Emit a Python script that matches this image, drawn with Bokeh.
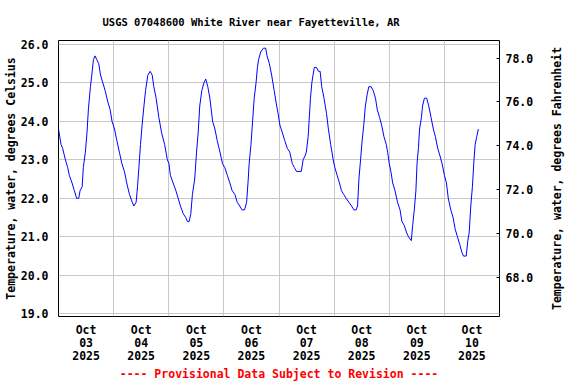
from bokeh.plotting import figure
from bokeh.layouts import row
from bokeh.models import Range1d, LinearAxis, FixedTicker, PrintfTickFormatter
from bokeh.embed import file_html
from bokeh.resources import INLINE

# hours since 2025-10-03 00:00
hours = [0, 1.1, 1.8, 3, 4, 4.7, 5.9, 6.9, 7.9, 8.8, 9.4, 10.3, 10.8, 11.7, 12.4, 13, 13.9, 14.5, 15.2,
         15.9, 16.7, 17.5, 18.3, 19.3, 20.3, 21.5, 22.5, 23.3,
         24.4, 25.4, 26.5, 27.6, 28.7, 29.7, 30.9, 32.1, 32.8, 33.8, 34.4, 35, 35.7, 36.4, 37.2, 37.9,
         38.9, 39.9, 40.8, 41.5, 42.5, 43.7, 44.9, 46.2, 47.4,
         48.1, 48.7, 49.9, 51.1, 52.1, 53.1, 54.3, 55.4, 56.1, 56.9, 57.6, 58.3, 59.3, 60.1, 60.8, 61.5,
         62.4, 63.3, 64.1, 65, 65.9, 67.1, 68.1, 69.1, 70.3, 71.4,
         72.4, 73.5, 74.6, 75.6, 76.8, 77.8, 78.9, 79.9, 81, 81.9, 82.5, 83, 83.8, 84.5, 85.2, 86, 86.6,
         87.1, 88, 89.2, 90.2, 90.8, 91.8, 92.8, 93.9, 94.7, 95.6,
         96.4, 97.5, 98.5, 99.6, 100.7, 101.8, 102.7, 103.6, 105.7, 106.5, 107.3, 107.9, 108.7, 109.1,
         109.7, 110.3, 110.8, 111.4, 112.3, 113.2, 113.9, 114.6, 115.6, 116.7, 117.5, 118.5, 119.6,
         120.3, 121.3, 122.3, 123.2, 124.2, 125.2, 126.4, 127.6, 128.6, 129.6, 130.2, 130.8, 131.5,
         132.2, 132.9, 133.6, 134.4, 135.1, 136.1, 137, 138, 138.8, 139.8, 140.7, 141.7, 142.7,
         143.3, 144, 144.7, 145.5, 146.5, 147.6, 148.7, 149.5, 150.5, 151.6, 152.4, 153.6, 154.2,
         154.9, 155.6, 156.1, 156.7, 157.2, 158, 158.5, 159.3, 160.3, 161.2, 162.2, 163.2, 164.1,
         165.1, 166.1, 167, 168,
         168.9, 169.7, 170.8, 171.8, 172.7, 173.7, 174.7, 175.6, 176.3, 177.5, 178.2, 178.8, 179.5,
         180.2, 180.9, 181.4, 182.1, 182.8]
temp_c = [23.8, 23.4, 23.3, 23.0, 22.8, 22.6, 22.4, 22.2, 22.0, 22.0, 22.2, 22.3, 22.8, 23.2, 23.7, 24.3,
          24.9, 25.2, 25.6, 25.7, 25.6, 25.5, 25.2, 25.0, 24.8, 24.5, 24.3, 24.0,
          23.8, 23.5, 23.2, 22.9, 22.7, 22.4, 22.1, 21.9, 21.8, 21.9, 22.3, 22.8, 23.4, 23.9, 24.4, 24.8,
          25.2, 25.3, 25.2, 24.9, 24.6, 24.1, 23.7, 23.4, 23.0,
          22.9, 22.6, 22.4, 22.2, 22.0, 21.8, 21.6, 21.5, 21.4, 21.4, 21.6, 22.1, 22.5, 23.2, 23.7, 24.4,
          24.8, 25.0, 25.1, 24.9, 24.6, 24.0, 23.8, 23.5, 23.2, 22.9,
          22.8, 22.6, 22.4, 22.2, 22.1, 21.9, 21.8, 21.7, 21.7, 21.9, 22.4, 22.9, 23.4, 24.0, 24.6, 25.0,
          25.4, 25.6, 25.8, 25.9, 25.9, 25.7, 25.5, 25.2, 24.8, 24.5, 24.2,
          23.9, 23.7, 23.5, 23.3, 23.2, 22.9, 22.8, 22.7, 22.7, 23.0, 23.1, 23.2, 23.6, 24.0,
          24.6, 25.0, 25.2, 25.4, 25.4, 25.3, 25.3, 24.9, 24.6, 24.2, 23.8, 23.4, 23.0,
          22.8, 22.6, 22.4, 22.2, 22.1, 22.0, 21.9, 21.8, 21.7, 21.7, 21.8, 22.5, 23.0,
          23.5, 23.9, 24.4, 24.7, 24.9, 24.9, 24.8, 24.6, 24.3, 24.1, 23.9, 23.6, 23.4,
          23.2, 22.9, 22.7, 22.4, 22.2, 21.9, 21.7, 21.4, 21.3, 21.1, 21.0, 20.9, 21.3,
          21.7, 22.2, 22.9, 23.3, 23.8, 24.1, 24.4, 24.6, 24.6, 24.4, 24.1, 23.8, 23.6,
          23.3, 23.1, 22.9, 22.6,
          22.4, 22.0, 21.7, 21.5, 21.2, 21.0, 20.8, 20.6, 20.5, 20.5, 20.9, 21.1, 21.8,
          22.3, 23.0, 23.4, 23.6, 23.8]

day_ticks = [12, 36, 60, 84, 108, 132, 156, 180]
day_labels = ["Oct\n03\n2025", "Oct\n04\n2025", "Oct\n05\n2025", "Oct\n06\n2025",
              "Oct\n07\n2025", "Oct\n08\n2025", "Oct\n09\n2025", "Oct\n10\n2025"]
midnights = [24, 48, 72, 96, 120, 144, 168]
c_ticks = [19, 20, 21, 22, 23, 24, 25, 26]
f_ticks = [68, 70, 72, 74, 76, 78]

FONT = "DejaVu Sans Mono"
GRID = "#c8c8c8"
FS = "11.5px"

p = figure(width=540, height=384, output_backend="svg", toolbar_location=None,
           x_range=Range1d(0, 192), y_range=Range1d(18.93, 26.1),
           min_border_left=58, min_border_right=41, min_border_top=39, min_border_bottom=68,
           background_fill_color="white", border_fill_color="white")

p.title.text = "USGS 07048600 White River near Fayetteville, AR"
p.title.align = "left"
p.title.offset = 44
p.title.standoff = 26
p.title.text_font = FONT
p.title.text_font_style = "bold"
p.title.text_font_size = "10.5px"
p.title.text_color = "black"

p.outline_line_color = "black"
p.outline_line_width = 1

xa = p.xaxis[0]
xa.ticker = FixedTicker(ticks=day_ticks)
xa.major_label_overrides = dict(zip(day_ticks, day_labels))
xa.major_tick_line_color = None
xa.minor_tick_line_color = None
xa.axis_line_color = None
xa.major_label_standoff = 0
xa.major_label_text_font = FONT
xa.major_label_text_font_style = "bold"
xa.major_label_text_font_size = FS
xa.major_label_text_line_height = 0.95
xa.major_label_text_color = "black"
xa.axis_label = "---- Provisional Data Subject to Revision ----"
xa.axis_label_standoff = 1
xa.axis_label_text_font = FONT
xa.axis_label_text_font_style = "bold"
xa.axis_label_text_font_size = FS
xa.axis_label_text_color = "red"

ya = p.yaxis[0]
ya.ticker = FixedTicker(ticks=c_ticks)
ya.formatter = PrintfTickFormatter(format="%.1f")
ya.major_tick_line_color = None
ya.minor_tick_line_color = None
ya.axis_line_color = None
ya.major_label_standoff = 4
ya.major_label_text_font = FONT
ya.major_label_text_font_style = "bold"
ya.major_label_text_font_size = FS
ya.major_label_text_color = "black"
ya.axis_label = "Temperature, water, degrees Celsius"
ya.axis_label_standoff = 0
ya.axis_label_text_font = FONT
ya.axis_label_text_font_style = "bold"
ya.axis_label_text_font_size = FS
ya.axis_label_text_color = "black"

p.extra_y_ranges = {"f": Range1d(66.2, 78.8)}
ra = LinearAxis(y_range_name="f", ticker=FixedTicker(ticks=f_ticks),
                formatter=PrintfTickFormatter(format="%.1f"))
ra.major_tick_in = 3
ra.major_tick_out = 0
ra.major_tick_line_color = "black"
ra.minor_tick_line_color = None
ra.axis_line_color = None
ra.major_label_standoff = 6
ra.major_label_text_font = FONT
ra.major_label_text_font_style = "bold"
ra.major_label_text_font_size = FS
ra.major_label_text_color = "black"
p.add_layout(ra, "right")

p.xgrid.ticker = FixedTicker(ticks=midnights)
p.xgrid.grid_line_color = GRID
p.ygrid.grid_line_color = GRID

p.line(hours, temp_c, line_color="#0000ff", line_width=1)

# narrow companion figure carrying the Fahrenheit axis title (reads bottom-to-top)
q = figure(width=36, height=384, output_backend="svg", toolbar_location=None,
           x_range=Range1d(0, 1), y_range=Range1d(0, 1),
           min_border_left=23, min_border_right=0, min_border_top=39, min_border_bottom=68,
           background_fill_color="white", border_fill_color="white")
q.outline_line_color = None
q.grid.visible = False
q.xaxis.visible = False
qa = q.yaxis[0]
qa.ticker = FixedTicker(ticks=[])
qa.major_tick_line_color = None
qa.minor_tick_line_color = None
qa.axis_line_color = None
qa.major_label_standoff = 0
qa.axis_label = "Temperature, water, degrees Fahrenheit"
qa.axis_label_standoff = 0
qa.axis_label_text_font = FONT
qa.axis_label_text_font_style = "bold"
qa.axis_label_text_font_size = FS
qa.axis_label_text_color = "black"

layout = row(p, q)
open("out.html", "w").write(file_html(layout, INLINE))
